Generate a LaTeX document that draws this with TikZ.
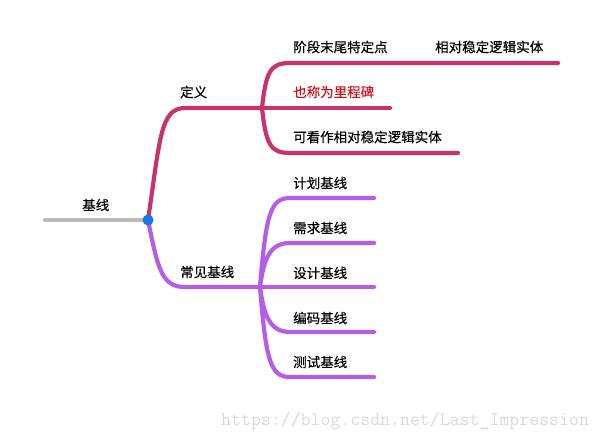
\documentclass[tikz,border=0pt]{standalone}
\usepackage{fontspec}
\newfontfamily\cjk[FakeBold=0.35]{Noto Sans CJK SC}
\definecolor{crim}{HTML}{C9336B}
\definecolor{purp}{HTML}{B55DE6}
\definecolor{gline}{HTML}{BBBBBB}
\definecolor{dot}{HTML}{1877E8}
\definecolor{redtxt}{HTML}{C8161D}
\begin{document}
\begin{tikzpicture}[x=1pt,y=-1pt,
  lbl/.style={anchor=west,inner sep=0pt,font=\cjk\fontsize{13.5}{13.5}\selectfont},
  branch/.style={line width=4.2pt,line cap=round}]
\useasboundingbox (0,0) rectangle (603,441);
% coordinates
\coordinate (root) at (148,220);
\coordinate (gstart) at (45,220);
\coordinate (defA) at (185,108);
\coordinate (defB) at (262,108);
\coordinate (comA) at (185,287);
\coordinate (comB) at (260,287);
\coordinate (d1a) at (290,63);   \coordinate (d1b) at (558,63);
\coordinate (d2b) at (390,108);
\coordinate (d3a) at (290,153);  \coordinate (d3b) at (458,153);
\coordinate (c1a) at (290,198);  \coordinate (c1b) at (374,198);
\coordinate (c2a) at (290,243);  \coordinate (c2b) at (374,243);
\coordinate (c3b) at (374,287);
\coordinate (c4a) at (290,332);  \coordinate (c4b) at (374,332);
\coordinate (c5a) at (290,377);  \coordinate (c5b) at (374,377);
% root line
\draw[gline,branch] (gstart) -- (root);
% definition branch
\draw[crim,branch] (root) .. controls (160,140) and (160,108) .. (defA) -- (defB);
\draw[crim,branch] (defB) .. controls (266,72) and (270,63) .. (d1a) -- (d1b);
\draw[crim,branch] (defB) -- (d2b);
\draw[crim,branch] (defB) .. controls (266,144) and (270,153) .. (d3a) -- (d3b);
% common branch
\draw[purp,branch] (root) .. controls (158,270) and (162,287) .. (comA) -- (comB);
\draw[purp,branch] (comB) .. controls (266,215) and (270,198) .. (c1a) -- (c1b);
\draw[purp,branch] (comB) .. controls (264,258) and (270,243) .. (c2a) -- (c2b);
\draw[purp,branch] (comB) -- (c3b);
\draw[purp,branch] (comB) .. controls (264,316) and (270,332) .. (c4a) -- (c4b);
\draw[purp,branch] (comB) .. controls (266,360) and (270,377) .. (c5a) -- (c5b);
\fill[dot] (root) circle (5.5);
% labels
\node[lbl] (n0) at (82,205) {基线};
\node[lbl] (n1) at (180,92) {定义};
\node[lbl] (n2) at (180,272) {常见基线};
\node[lbl] (n11) at (293,47) {阶段末尾特定点};
\node[lbl] (n11b) at (435,47) {相对稳定逻辑实体};
\node[lbl,text=redtxt] (n12) at (293,92) {也称为里程碑};
\node[lbl] (n13) at (293,137) {可看作相对稳定逻辑实体};
\node[lbl] (n21) at (293,183) {计划基线};
\node[lbl] (n22) at (293,228) {需求基线};
\node[lbl] (n23) at (293,273) {设计基线};
\node[lbl] (n24) at (293,318) {编码基线};
\node[lbl] (n25) at (293,362) {测试基线};
\node[anchor=west,inner sep=0pt,text=black!15,font=\ttfamily\fontsize{19.3}{19.3}\selectfont] (wm) at (221,421) {https://blog.csdn.net/Last\_Impression};
\end{tikzpicture}
\end{document}
